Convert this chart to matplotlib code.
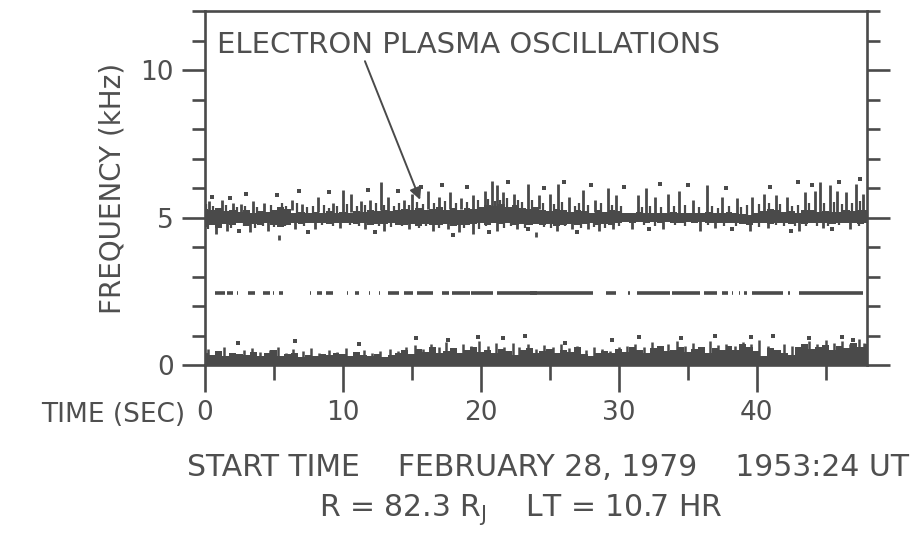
import matplotlib
matplotlib.use("Agg")
import matplotlib.pyplot as plt

# ---------------- data ----------------
# time grid of the band envelopes (s), every 0.5 s from 0 to 48
t_grid = [i * 0.5 for i in range(97)]

# upper / lower edge of the electron plasma oscillation band (kHz)
band_hi = [5.30, 5.25, 5.33, 5.23, 5.27, 5.20, 5.25, 5.17, 5.23, 5.20,
           5.27, 5.35, 5.30, 5.17, 5.20, 5.15, 5.19, 5.17, 5.21, 5.15,
           5.20, 5.17, 5.23, 5.19, 5.25, 5.21, 5.27, 5.23, 5.25, 5.30,
           5.25, 5.33, 5.27, 5.30, 5.35, 5.27, 5.31, 5.25, 5.33, 5.29,
           5.35, 5.43, 5.40, 5.45, 5.37, 5.41, 5.33, 5.30, 5.35, 5.27,
           5.23, 5.30, 5.25, 5.20, 5.27, 5.23, 5.17, 5.25, 5.20, 5.27,
           5.22, 5.16, 5.14, 5.18, 5.16, 5.14, 5.17, 5.15, 5.18, 5.16,
           5.14, 5.17, 5.16, 5.19, 5.14, 5.16, 5.18, 5.14, 5.12, 5.09,
           5.14, 5.22, 5.30, 5.25, 5.18, 5.22, 5.16, 5.24, 5.26, 5.19,
           5.22, 5.18, 5.20, 5.24, 5.22, 5.26, 5.25]
band_lo = [4.67, 4.75, 4.65, 4.77, 4.73, 4.80, 4.70, 4.77, 4.75, 4.81,
           4.73, 4.67, 4.75, 4.81, 4.79, 4.83, 4.80, 4.82, 4.79, 4.83,
           4.81, 4.83, 4.77, 4.81, 4.75, 4.79, 4.77, 4.81, 4.75, 4.73,
           4.79, 4.71, 4.77, 4.73, 4.75, 4.77, 4.70, 4.75, 4.73, 4.77,
           4.80, 4.75, 4.81, 4.77, 4.83, 4.75, 4.79, 4.73, 4.77, 4.75,
           4.77, 4.71, 4.75, 4.79, 4.73, 4.77, 4.81, 4.75, 4.79, 4.73,
           4.82, 4.84, 4.82, 4.84, 4.83, 4.85, 4.82, 4.84, 4.83, 4.81,
           4.84, 4.82, 4.84, 4.81, 4.83, 4.82, 4.80, 4.82, 4.78, 4.76,
           4.80, 4.82, 4.78, 4.80, 4.82, 4.79, 4.81, 4.78, 4.82, 4.80,
           4.81, 4.78, 4.82, 4.80, 4.82, 4.79, 4.81]

# upper edge of the low-frequency noise band (kHz)
low_top = [0.40, 0.35, 0.48, 0.30, 0.42, 0.38, 0.33, 0.45, 0.30, 0.40,
           0.52, 0.30, 0.36, 0.42, 0.28, 0.34, 0.30, 0.38, 0.33, 0.40,
           0.36, 0.30, 0.45, 0.34, 0.30, 0.38, 0.28, 0.35, 0.42, 0.50,
           0.38, 0.55, 0.45, 0.60, 0.40, 0.48, 0.58, 0.42, 0.50, 0.62,
           0.45, 0.52, 0.40, 0.55, 0.48, 0.35, 0.50, 0.58, 0.42, 0.46,
           0.55, 0.40, 0.52, 0.45, 0.60, 0.38, 0.30, 0.42, 0.48, 0.40,
           0.55, 0.45, 0.62, 0.50, 0.42, 0.58, 0.66, 0.48, 0.52, 0.60,
           0.44, 0.55, 0.62, 0.40, 0.58, 0.50, 0.66, 0.52, 0.70, 0.60,
           0.48, 0.30, 0.58, 0.50, 0.42, 0.35, 0.62, 0.72, 0.55, 0.60,
           0.68, 0.52, 0.64, 0.58, 0.75, 0.62, 0.70]

# long bursts above / below the band: (time s, low kHz, high kHz)
bursts = [(0.3, 5.2, 5.55), (1.2, 5.2, 5.6), (2.0, 5.15, 5.5), (2.6, 5.2, 5.45),
          (3.5, 5.15, 5.55), (4.3, 5.2, 5.5), (6.3, 5.25, 5.6), (7.0, 5.2, 5.45),
          (8.2, 5.2, 5.7), (9.3, 5.15, 5.5), (10.0, 5.2, 5.95), (10.6, 5.2, 5.8),
          (11.3, 5.2, 5.55), (12.0, 5.2, 5.6), (12.8, 5.25, 6.2), (13.3, 5.2, 5.7),
          (14.4, 5.2, 5.6), (15.0, 5.25, 5.8), (16.2, 5.3, 5.9), (17.0, 5.25, 5.7),
          (17.8, 5.3, 5.85), (18.6, 5.3, 5.65), (19.4, 5.3, 5.75), (20.3, 5.3, 5.9),
          (20.8, 5.35, 6.25), (21.2, 5.35, 6.1), (21.6, 5.3, 5.85), (22.4, 5.35, 5.8),
          (23.4, 5.3, 6.15), (24.2, 5.3, 5.75), (25.0, 5.2, 5.8), (25.6, 5.2, 6.15),
          (26.4, 5.2, 5.7), (27.4, 5.2, 5.95), (28.3, 5.2, 5.6), (29.2, 5.2, 6.0),
          (29.8, 5.2, 5.75), (31.4, 5.15, 5.75), (32.0, 5.15, 6.0), (32.6, 5.15, 5.7),
          (33.6, 5.15, 5.8), (34.4, 5.15, 5.9), (35.4, 5.15, 5.6), (36.4, 5.15, 6.1),
          (37.5, 5.15, 5.7), (38.6, 5.15, 5.65), (39.7, 5.1, 5.7), (40.5, 5.15, 5.8),
          (41.4, 5.2, 5.75), (42.2, 5.2, 5.7), (43.5, 5.2, 5.85), (44.2, 5.2, 5.9),
          (44.6, 5.2, 6.2), (45.3, 5.2, 6.1), (45.8, 5.2, 5.9), (46.5, 5.2, 5.85),
          (47.2, 5.2, 6.15), (47.7, 5.2, 5.8),
          (0.8, 4.45, 4.8), (1.6, 4.55, 4.8), (3.3, 4.5, 4.85), (4.6, 4.55, 4.85),
          (5.4, 4.25, 4.4), (6.5, 4.6, 4.85), (8.0, 4.6, 4.85), (9.8, 4.65, 4.85),
          (11.6, 4.6, 4.85), (13.0, 4.55, 4.85), (14.8, 4.62, 4.85), (16.5, 4.55, 4.8),
          (17.6, 4.6, 4.8), (18.4, 4.5, 4.8), (19.4, 4.45, 4.8), (21.2, 4.55, 4.85),
          (22.6, 4.6, 4.85), (24.0, 4.35, 4.5), (25.5, 4.55, 4.85), (26.6, 4.6, 4.85),
          (27.8, 4.6, 4.85), (28.6, 4.55, 4.85), (29.6, 4.62, 4.85), (31.0, 4.6, 4.86),
          (33.2, 4.6, 4.88), (35.9, 4.55, 4.88), (37.0, 4.65, 4.88), (39.5, 4.55, 4.85),
          (40.8, 4.65, 4.85), (43.1, 4.55, 4.85), (44.8, 4.65, 4.85), (46.8, 4.6, 4.85)]

# short fuzz on the upper edge of the band: (time s, top kHz)
fuzz_up = [(0.1, 5.45), (0.6, 5.38), (1.5, 5.42), (2.3, 5.35), (2.9, 5.40),
           (3.8, 5.36), (4.8, 5.44), (5.6, 5.48), (5.9, 5.40), (6.7, 5.50),
           (7.4, 5.34), (7.8, 5.38), (8.6, 5.42), (9.0, 5.33), (9.6, 5.40),
           (10.3, 5.46), (11.0, 5.38), (11.6, 5.42), (12.4, 5.50), (13.0, 5.44),
           (13.7, 5.40), (14.1, 5.48), (14.8, 5.42), (15.4, 5.52), (15.8, 5.45),
           (16.6, 5.50), (17.4, 5.55), (18.2, 5.48), (19.0, 5.52), (19.8, 5.58),
           (20.5, 5.62), (21.0, 5.55), (21.4, 5.60), (21.9, 5.65), (22.7, 5.58),
           (23.0, 5.52), (23.7, 5.60), (24.5, 5.50), (25.3, 5.45), (25.9, 5.52),
           (26.8, 5.40), (27.1, 5.48), (27.8, 5.42), (28.7, 5.50), (29.5, 5.44),
           (30.2, 5.40), (31.7, 5.36), (32.3, 5.40), (33.1, 5.34), (34.0, 5.38),
           (34.8, 5.42), (35.8, 5.35), (36.8, 5.40), (37.2, 5.33), (38.0, 5.38),
           (38.9, 5.36), (39.3, 5.42), (40.2, 5.45), (40.9, 5.50), (41.7, 5.46),
           (42.6, 5.40), (43.0, 5.44), (43.8, 5.50), (44.9, 5.48), (45.6, 5.52),
           (46.2, 5.45), (46.9, 5.50), (47.5, 5.55)]

# short fuzz on the lower edge of the band: (time s, bottom kHz)
fuzz_down = [(0.2, 4.62), (1.0, 4.70), (1.9, 4.66), (2.8, 4.72), (3.6, 4.64),
             (4.2, 4.70), (5.0, 4.68), (5.8, 4.72), (7.2, 4.70), (8.5, 4.74),
             (9.3, 4.72), (10.5, 4.75), (11.2, 4.70), (12.6, 4.72), (13.5, 4.68),
             (14.3, 4.70), (15.5, 4.66), (16.0, 4.70), (17.0, 4.64), (18.8, 4.66),
             (19.9, 4.62), (20.4, 4.70), (21.7, 4.66), (22.2, 4.70), (23.2, 4.64),
             (24.6, 4.68), (25.1, 4.66), (26.1, 4.70), (27.3, 4.64), (28.2, 4.68),
             (29.0, 4.66), (30.0, 4.72), (31.8, 4.74), (32.6, 4.72), (34.1, 4.75),
             (34.8, 4.72), (36.5, 4.74), (37.6, 4.72), (38.5, 4.70), (40.2, 4.68),
             (41.4, 4.74), (42.0, 4.72), (42.8, 4.70), (43.6, 4.72), (44.4, 4.70),
             (45.2, 4.72), (46.0, 4.74), (47.4, 4.72)]

# peaks of the low-frequency noise band: (time s, top kHz)
low_peaks = [(0.2, 0.55), (0.9, 0.45), (1.4, 0.60), (2.1, 0.42), (2.8, 0.50),
             (3.4, 0.58), (4.0, 0.44), (4.7, 0.52), (5.3, 0.62), (5.9, 0.40),
             (6.4, 0.55), (7.1, 0.48), (7.7, 0.56), (8.3, 0.42), (9.0, 0.50),
             (9.6, 0.45), (10.2, 0.58), (10.8, 0.44), (11.5, 0.52), (12.1, 0.40),
             (12.7, 0.48), (13.4, 0.55), (14.0, 0.46), (14.6, 0.60), (15.2, 0.68),
             (15.8, 0.55), (16.4, 0.72), (17.0, 0.62), (17.5, 0.78), (18.1, 0.58),
             (18.7, 0.70), (19.3, 0.64), (19.9, 0.80), (20.5, 0.66), (21.1, 0.74),
             (21.7, 0.60), (22.3, 0.76), (22.8, 0.62), (23.4, 0.70), (24.0, 0.55),
             (24.6, 0.68), (25.2, 0.60), (25.8, 0.72), (26.4, 0.58), (27.0, 0.66),
             (27.6, 0.52), (28.2, 0.62), (28.8, 0.55), (29.4, 0.48), (30.0, 0.60),
             (30.6, 0.66), (31.2, 0.72), (31.8, 0.60), (32.4, 0.78), (33.0, 0.64),
             (33.6, 0.70), (34.2, 0.82), (34.8, 0.66), (35.4, 0.74), (36.0, 0.62),
             (36.6, 0.80), (37.2, 0.68), (37.8, 0.72), (38.4, 0.64), (39.0, 0.78),
             (39.6, 0.70), (40.2, 0.85), (40.8, 0.66), (41.4, 0.50), (42.0, 0.72),
             (42.6, 0.64), (43.2, 0.58), (43.8, 0.80), (44.4, 0.70), (45.0, 0.86),
             (45.6, 0.74), (46.2, 0.82), (46.8, 0.70), (47.4, 0.88), (47.8, 0.76)]

# isolated specks: (time s, frequency kHz)
specks = [(0.5, 5.7), (1.8, 5.65), (3.0, 5.8), (5.2, 5.75), (6.8, 5.9), (9.0, 5.85),
          (11.8, 5.95), (14.0, 5.9), (15.7, 6.05), (17.2, 6.1), (19.0, 6.05),
          (22.0, 6.2), (24.6, 6.0), (26.0, 6.2), (28.0, 6.1), (30.4, 6.05),
          (33.0, 6.15), (35.0, 6.1), (37.8, 6.0), (41.0, 6.05), (43.0, 6.2),
          (44.0, 6.1), (46.0, 6.2), (47.5, 6.3),
          (2.5, 4.55), (7.5, 4.5), (12.3, 4.5), (18.0, 4.4), (20.6, 4.5),
          (23.4, 4.6), (27.0, 4.5), (32.2, 4.6), (38.2, 4.6), (42.5, 4.55),
          (45.5, 4.6),
          (2.4, 0.75), (6.5, 0.8), (11.2, 0.7), (15.3, 0.9), (17.6, 0.85),
          (19.8, 0.95), (21.6, 0.9), (23.2, 1.0), (26.1, 0.75), (29.5, 0.85),
          (31.5, 0.95), (34.5, 0.9), (37.0, 1.0), (39.6, 0.95), (41.2, 1.0),
          (43.8, 0.9), (46.2, 0.95), (47.0, 0.85)]

# broken line near 2.5 kHz: (start s, end s)
line_f = 2.45
line_segments = [(0.7, 1.45), (1.6, 2.0), (2.3, 2.4), (3.1, 3.6), (4.2, 4.7),
                 (4.9, 5.0), (5.4, 5.65), (7.6, 7.7), (8.1, 8.5), (8.8, 9.3),
                 (10.3, 10.4), (10.9, 11.2), (11.9, 12.0), (12.6, 12.7),
                 (13.3, 14.1), (14.4, 15.1), (15.4, 16.5), (17.2, 17.7),
                 (17.9, 19.2), (19.3, 20.9), (21.2, 24.1), (23.6, 28.1),
                 (29.1, 29.8), (30.7, 30.8), (31.3, 33.7), (33.9, 35.9),
                 (36.2, 37.1), (37.5, 37.9), (38.2, 38.3), (38.7, 38.8),
                 (39.1, 39.3), (39.7, 41.9), (42.3, 42.4), (43.1, 47.7)]

x_major = [0, 10, 20, 30, 40]
x_minor = [5, 15, 25, 35, 45]
y_major = [0, 5, 10]
y_minor = [1, 2, 3, 4, 6, 7, 8, 9, 11, 12]

# ---------------- drawing ----------------
ink = "#4a4a4a"
txt = "#4f4f4f"
plt.rcParams["font.family"] = ["DejaVu Sans"]

fig = plt.figure(figsize=(9.22, 5.36), dpi=100)
ax = fig.add_axes([0.2223, 0.3190, 0.718, 0.6604])
ax.set_xlim(0, 48)
ax.set_ylim(0, 12)

ax.fill_between(t_grid, band_lo, band_hi, step="mid", color=ink, lw=0)
ax.fill_between(t_grid, 0, low_top, step="mid", color=ink, lw=0)

bt, blo, bhi = zip(*bursts)
ax.vlines(bt, blo, bhi, color=ink, lw=2.0)
ut, uhi = zip(*fuzz_up)
ax.vlines(ut, [5.1] * len(ut), uhi, color=ink, lw=1.6)
dt, dlo = zip(*fuzz_down)
ax.vlines(dt, dlo, [4.9] * len(dt), color=ink, lw=1.6)
lt, lhi = zip(*low_peaks)
ax.vlines(lt, [0] * len(lt), lhi, color=ink, lw=1.8)
st, sf = zip(*specks)
ax.scatter(st, sf, s=5, marker="s", color=ink, lw=0)
s0, s1 = zip(*line_segments)
ax.hlines([line_f] * len(s0), s0, s1, color=ink, lw=2.6)

for s in ax.spines.values():
    s.set_color(ink)
    s.set_linewidth(1.9)

ax.set_xticks(x_major)
ax.set_xticks(x_minor, minor=True)
ax.set_yticks(y_major)
ax.set_yticks(y_minor, minor=True)
ax.set_xticklabels([str(v) for v in x_major])
ax.set_yticklabels([str(v) for v in y_major])
ax.tick_params(axis="x", which="major", direction="out", length=19.5, width=1.9,
               color=ink, labelsize=19, labelcolor=txt, pad=6)
ax.tick_params(axis="x", which="minor", direction="out", length=10.5, width=1.9,
               color=ink)
ax.tick_params(axis="y", which="major", direction="out", length=16.5, width=1.9,
               color=ink, labelsize=19, labelcolor=txt, pad=6, right=True)
ax.tick_params(axis="y", which="minor", direction="out", length=9.5, width=1.9,
               color=ink, right=True)

ax.set_ylabel("FREQUENCY (kHz)", fontsize=20, color=txt, labelpad=10)

ax.annotate("", xy=(15.6, 5.6), xytext=(11.6, 10.3),
            arrowprops=dict(arrowstyle="-|>", color=ink, lw=1.4,
                            mutation_scale=18, shrinkA=0, shrinkB=0))
ax.text(0.9, 10.85, "ELECTRON PLASMA OSCILLATIONS", fontsize=21, color=txt,
        ha="left", va="center")

fig.text(185 / 922, 1 - 415 / 536, "TIME (SEC)", fontsize=19, color=txt,
         ha="right", va="center")
fig.text(548 / 922, 1 - 468 / 536,
         "START TIME    FEBRUARY 28, 1979    1953:24 UT",
         fontsize=21.5, color=txt, ha="center", va="center")
fig.text(521 / 922, 1 - 510 / 536,
         r"R = 82.3 R$_\mathrm{J}$    LT = 10.7 HR",
         fontsize=21.5, color=txt, ha="center", va="center")

fig.savefig("out.png", dpi=100, facecolor="white")
